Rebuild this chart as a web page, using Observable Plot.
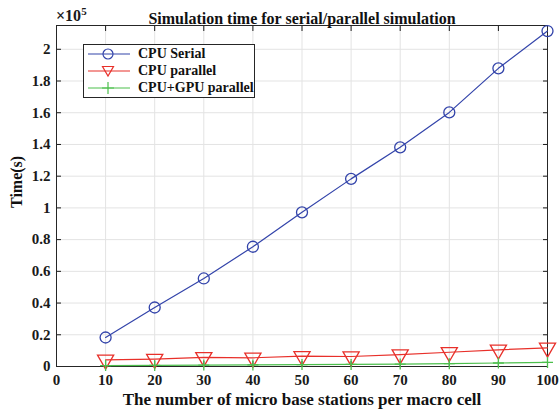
<!DOCTYPE html>
<html>
<head>
<meta charset="utf-8">
<script src="https://cdn.jsdelivr.net/npm/d3@7"></script>
<script src="https://cdn.jsdelivr.net/npm/@observablehq/plot@0.6"></script>
<style>
  body { margin: 0; background: #fff; }
  #wrap { position: relative; width: 559px; height: 415px; font-family: "Liberation Serif", "Times New Roman", serif; }
  #legend { position: absolute; left: 83px; top: 44px; width: 172px; height: 54px; border: 1px solid #262626; background: #fff; font-weight: bold; font-size: 14px; color: #111; box-sizing: border-box; }
  #legend .row { position: absolute; left: 0; width: 170px; height: 17px; display: flex; align-items: center; white-space: nowrap; }
  #legend svg { display: block; flex: none; }
</style>
</head>
<body>
<div id="wrap"></div>
<script>
const stations = [10, 20, 30, 40, 50, 60, 70, 80, 90, 100];
const cpuSerial = [18300, 37200, 55500, 75500, 97200, 118300, 138200, 160200, 188000, 211500];
const cpuParallel = [4200, 4700, 5800, 5500, 6500, 6300, 7500, 9000, 10500, 11800];
const cpuGpuParallel = [600, 700, 900, 1000, 1200, 1300, 1500, 1800, 2200, 2600];
const seriesNames = ["CPU Serial", "CPU parallel", "CPU+GPU parallel"];
const seriesColors = ["#3344aa", "#e8302a", "#4cbf4c"];
const xTicks = [0, 10, 20, 30, 40, 50, 60, 70, 80, 90, 100];
const yTicks = [0, 20000, 40000, 60000, 80000, 100000, 120000, 140000, 160000, 180000, 200000];

const serial = stations.map((x, i) => ({x, y: cpuSerial[i]}));
const par = stations.map((x, i) => ({x, y: cpuParallel[i]}));
const gpu = stations.map((x, i) => ({x, y: cpuGpuParallel[i]}));

const plusSymbol = {
  draw(context, size) {
    const r = Math.sqrt(size / Math.PI);
    context.moveTo(-r, 0); context.lineTo(r, 0);
    context.moveTo(0, -r); context.lineTo(0, r);
  }
};
const font = "Liberation Serif";
const noLabel = () => "";

const chart = Plot.plot({
  width: 559,
  height: 415,
  marginLeft: 56,
  marginRight: 12,
  marginTop: 25,
  marginBottom: 49,
  style: {fontFamily: font, fontWeight: "bold", fontSize: "15px", color: "#1a1a1a", background: "#fff"},
  x: {domain: [0, 100], ticks: xTicks},
  y: {domain: [0, 215000], ticks: yTicks},
  marks: [
    Plot.gridX(xTicks, {stroke: "#e3e3e3", strokeOpacity: 1}),
    Plot.gridY(yTicks, {stroke: "#e3e3e3", strokeOpacity: 1}),
    Plot.axisX(xTicks, {tickSize: -5, tickPadding: 13, label: null, fontSize: 15}),
    Plot.axisX(xTicks, {anchor: "top", tickSize: -5, tickFormat: noLabel, label: null}),
    Plot.axisY(yTicks, {tickSize: -5, tickPadding: 11, tickFormat: d => String(d / 1e5), label: null, fontSize: 15}),
    Plot.axisY(yTicks, {anchor: "right", tickSize: -5, tickFormat: noLabel, label: null}),
    Plot.frame({stroke: "#262626"}),
    Plot.line(serial, {x: "x", y: "y", stroke: seriesColors[0], strokeWidth: 1.2}),
    Plot.dot(serial, {x: "x", y: "y", stroke: seriesColors[0], r: 5.5, strokeWidth: 1.3}),
    Plot.line(par, {x: "x", y: "y", stroke: seriesColors[1], strokeWidth: 1.2}),
    Plot.dot(par, {x: "x", y: "y", stroke: seriesColors[1], symbol: "triangle", rotate: 180, r: 6, strokeWidth: 1.3}),
    Plot.line(gpu, {x: "x", y: "y", stroke: seriesColors[2], strokeWidth: 1.2}),
    Plot.dot(gpu, {x: "x", y: "y", stroke: seriesColors[2], symbol: plusSymbol, r: 5.5, strokeWidth: 1.3}),
    Plot.text(["Simulation time for serial/parallel simulation"], {frameAnchor: "top", dy: -13, fontSize: 16, fontWeight: "bold", fill: "#111"}),
    Plot.text(["The number of micro base stations per macro cell"], {frameAnchor: "bottom", dy: 38, fontSize: 17, fontWeight: "bold", fill: "#111"}),
    Plot.text(["Time(s)"], {frameAnchor: "left", dx: -40, dy: 12, rotate: -90, fontSize: 16, fontWeight: "bold", fill: "#111"})
  ]
});

const wrap = document.getElementById("wrap");
wrap.appendChild(chart);

// exponent label
const exp = document.createElement("div");
exp.style.cssText = "position:absolute;left:56px;top:5px;font-size:16px;font-weight:bold;color:#1a1a1a;";
exp.innerHTML = "×10<sup style='font-size:11px'>5</sup>";
wrap.appendChild(exp);

// legend
const legend = document.createElement("div");
legend.id = "legend";
const symbols = [
  c => `<circle cx="24" cy="8" r="5" fill="none" stroke="${c}" stroke-width="1.2"/>`,
  c => `<path d="M18.5,3.5 L29.5,3.5 L24,13 Z" fill="none" stroke="${c}" stroke-width="1.2"/>`,
  c => `<path d="M18,8 L30,8 M24,2 L24,14" fill="none" stroke="${c}" stroke-width="1.2"/>`
];
seriesNames.forEach((name, i) => {
  const row = document.createElement("div");
  row.className = "row";
  row.style.top = (0 + i * 17) + "px";
  row.innerHTML = `<svg width="52" height="16"><line x1="4" x2="46" y1="8" y2="8" stroke="${seriesColors[i]}" stroke-width="1.2"/>${symbols[i](seriesColors[i])}</svg><span style="margin-left:2px">${name}</span>`;
  legend.appendChild(row);
});
wrap.appendChild(legend);
</script>
</body>
</html>
